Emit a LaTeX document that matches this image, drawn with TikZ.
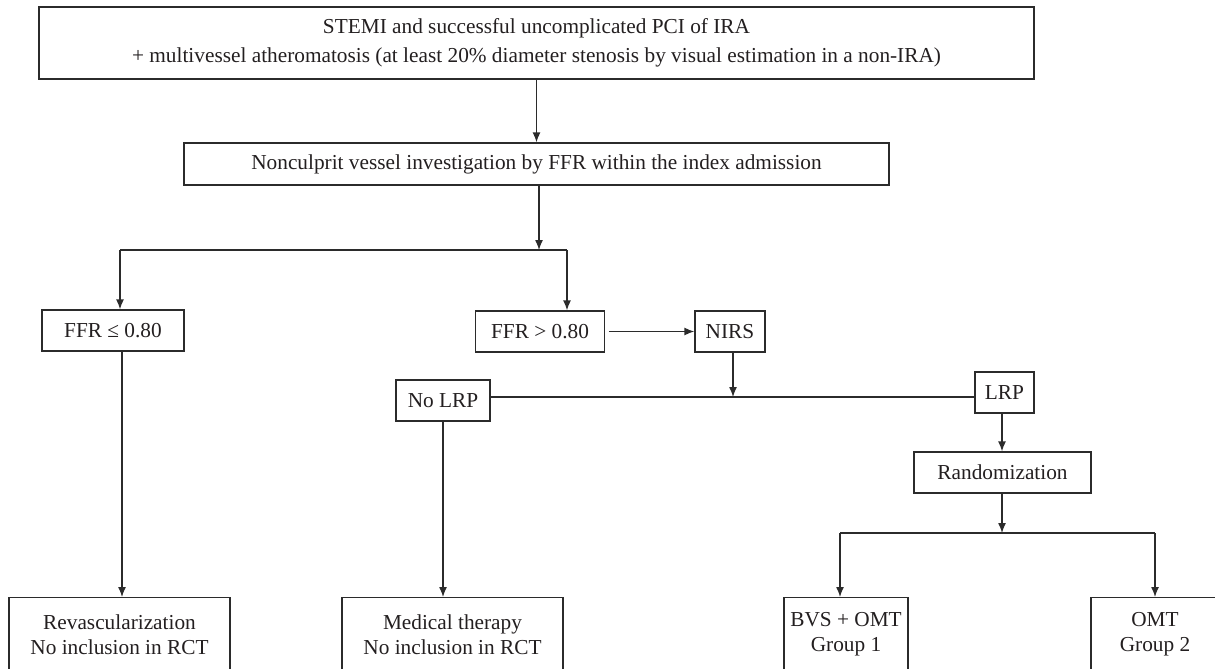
\documentclass[tikz,border=0pt]{standalone}
\usepackage{fontspec}
\setmainfont{Liberation Serif}
\usetikzlibrary{arrows.meta}
\definecolor{linecol}{HTML}{2B2B2B}
\definecolor{textcol}{HTML}{231F20}
\tikzset{
  box/.style={draw=linecol, line width=1.3pt, inner sep=0pt, align=center,
    text=textcol, font=\fontsize{21.3}{28.5}\selectfont},
  openbox/.style={box, anchor=north, minimum height=74pt, font=\fontsize{21.3}{25}\selectfont},
  conn/.style={draw=linecol, line width=1.3pt},
  arr/.style={conn, -{Latex[length=10pt,width=8pt]}}
}
\begin{document}
\begin{tikzpicture}[x=1pt,y=-1pt]
\useasboundingbox (0,0) rectangle (1215,669);
\clip (0,0) rectangle (1215,669);
% nodes
\node[box, minimum width=995pt, minimum height=72pt] (top) at (536.5,43)
  {STEMI and successful uncomplicated PCI of IRA\\
   + multivessel atheromatosis (at least 20\% diameter stenosis by visual estimation in a non-IRA)};
\node[box, minimum width=705pt, minimum height=42pt] (inv) at (536.5,164)
  {Nonculprit vessel investigation by FFR within the index admission};
\node[box, minimum width=142pt, minimum height=41pt] (ffrle) at (113,330.5) {FFR ≤ 0.80};
\node[box, minimum width=128.5pt, minimum height=41pt] (ffrgt) at (540,331.5) {FFR > 0.80};
\node[box, minimum width=70pt, minimum height=41pt] (nirs) at (730,331.5) {NIRS};
\node[box, minimum width=94pt, minimum height=41pt] (nolrp) at (443,400.5) {No LRP};
\node[box, minimum width=59pt, minimum height=41pt] (lrp) at (1004.5,392.5) {LRP};
\node[box, minimum width=177pt, minimum height=41pt] (rand) at (1002.5,472.5) {Randomization};
\node[openbox, minimum width=221pt] (revasc) at (119.5,597) {Revascularization\\No inclusion in RCT};
\node[openbox, minimum width=221pt] (med) at (452.5,597) {Medical therapy\\No inclusion in RCT};
\node[openbox, minimum width=124pt] (bvs) at (846,597) {BVS + OMT\\Group 1};
\node[openbox, minimum width=128pt] (omt) at (1155,597) {OMT\\Group 2};
% junction coordinates
\coordinate (j1) at (539,250);
\coordinate (j1l) at (120,250);
\coordinate (j1r) at (567,250);
\coordinate (j2) at (733,397);
\coordinate (j3) at (1002,533);
\coordinate (j3l) at (840,533);
\coordinate (j3r) at (1155,533);
% connectors
\draw[arr] (top.south) -- (inv.north);
\draw[arr] (inv.south -| j1) -- (j1);
\draw[conn] (j1l) -- (j1r);
\draw[arr] (j1l) -- (j1l |- ffrle.north);
\draw[arr] (j1r) -- (j1r |- ffrgt.north);
\draw[arr] ([xshift=4pt]ffrgt.east) -- (nirs.west);
\draw[arr] (nirs.south -| j2) -- (j2);
\draw[conn] (nolrp.east |- j2) -- (lrp.west |- j2);
\draw[arr] (lrp.south -| j3) -- (rand.north -| j3);
\draw[arr] (rand.south -| j3) -- (j3);
\draw[conn] (j3l) -- (j3r);
\draw[arr] (j3l) -- (j3l |- bvs.north);
\draw[arr] (j3r) -- (j3r |- omt.north);
\draw[arr] ([xshift=9pt]ffrle.south) -- ([xshift=9pt]ffrle.south |- revasc.north);
\draw[arr] (nolrp.south) -- (nolrp.south |- med.north);
\end{tikzpicture}
\end{document}
